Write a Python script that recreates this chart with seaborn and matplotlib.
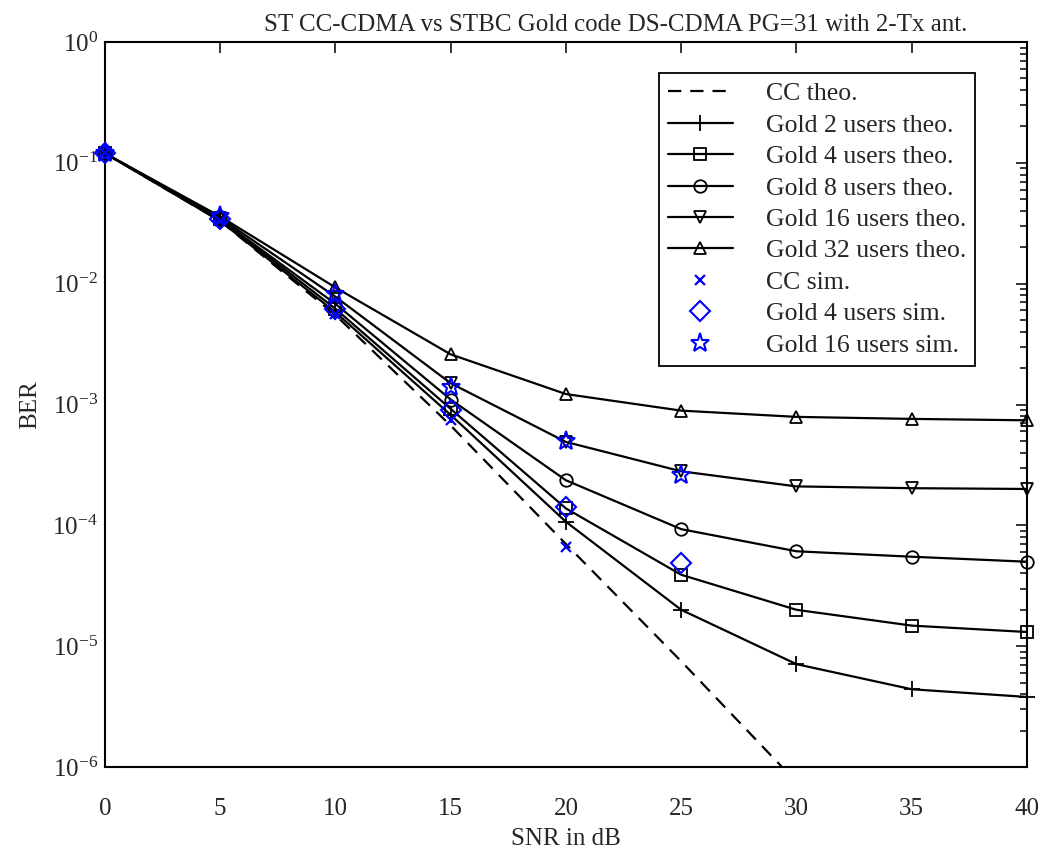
import numpy as np
import pandas as pd
import matplotlib
matplotlib.use("Agg")
import matplotlib.pyplot as plt
import matplotlib.ticker as mticker
import seaborn as sns

# SNR grid (dB)
snr = [0, 5, 10, 15, 20, 25, 30, 35, 40]
snr_sim = [0, 5, 10, 15, 20, 25]
snr_cc_sim = [0, 5, 10, 15, 20]

# theoretical curves
cc_theo = [0.12, 0.033, 0.0055, 6.7e-4, 7.0e-5, 7.5e-6, 7.5e-7, 7.5e-8, 7.5e-9]
gold2_theo = [0.12, 0.033, 0.0058, 8.2e-4, 1.07e-4, 2.0e-5, 7.1e-6, 4.4e-6, 3.8e-6]
gold4_theo = [0.12, 0.034, 0.0062, 9.2e-4, 1.38e-4, 3.9e-5, 2.0e-5, 1.48e-5, 1.31e-5]
gold8_theo = [0.12, 0.034, 0.0068, 1.1e-3, 2.36e-4, 9.3e-5, 6.1e-5, 5.5e-5, 5.0e-5]
gold16_theo = [0.12, 0.035, 0.0078, 1.5e-3, 4.9e-4, 2.8e-4, 2.1e-4, 2.03e-4, 2.0e-4]
gold32_theo = [0.12, 0.036, 0.0093, 2.6e-3, 1.22e-3, 8.9e-4, 7.9e-4, 7.6e-4, 7.4e-4]

# simulated points
cc_sim = [0.12, 0.033, 0.0056, 7.5e-4, 6.6e-5]
gold4_sim = [0.12, 0.034, 0.0062, 9.0e-4, 1.41e-4, 4.9e-5]
gold16_sim = [0.12, 0.036, 0.0082, 1.4e-3, 5.0e-4, 2.6e-4]

theo_labels = ["Gold 2 users theo.", "Gold 4 users theo.", "Gold 8 users theo.",
               "Gold 16 users theo.", "Gold 32 users theo."]
theo_values = [gold2_theo, gold4_theo, gold8_theo, gold16_theo, gold32_theo]
theo_markers = ["+", "s", "o", "v", "^"]

sns.set_style("white")
plt.rcParams["font.family"] = ["Liberation Serif", "DejaVu Serif"]
plt.rcParams["mathtext.fontset"] = "custom"
plt.rcParams["mathtext.rm"] = "Liberation Serif"
plt.rcParams["mathtext.it"] = "Liberation Serif:italic"

fig = plt.figure(figsize=(10.49, 8.57), dpi=100)
ax = fig.add_axes([0.100, 0.105, 0.879, 0.846])

sns.lineplot(x=snr, y=cc_theo, ax=ax, color="black", lw=1.6,
             dashes=(6, 4), label="CC theo.")
for lab, vals, mk in zip(theo_labels, theo_values, theo_markers):
    sns.lineplot(x=snr, y=vals, ax=ax, color="black", lw=1.6, marker=mk,
                 markersize=12 if mk == "+" else 9, markerfacecolor="none",
                 markeredgecolor="black", markeredgewidth=1.3, label=lab,
                 clip_on=False)

sns.lineplot(x=snr_cc_sim, y=cc_sim, ax=ax, color="blue", linestyle="",
             marker="x", markersize=7, markeredgecolor="blue", markeredgewidth=1.6,
             label="CC sim.", zorder=5, clip_on=False)
sns.lineplot(x=snr_sim, y=gold4_sim, ax=ax, color="blue", linestyle="",
             marker="D", markersize=10, markerfacecolor="none",
             markeredgecolor="blue", markeredgewidth=1.5, label="Gold 4 users sim.",
             zorder=5, clip_on=False)
sns.lineplot(x=snr_sim, y=gold16_sim, ax=ax, color="blue", linestyle="",
             marker="*", markersize=14, markerfacecolor="none",
             markeredgecolor="blue", markeredgewidth=1.5, label="Gold 16 users sim.",
             zorder=5, clip_on=False)

ax.set_yscale("log")
ax.set_xlim(0, 40)
ax.set_ylim(1e-6, 1)
ax.set_xticks(range(0, 41, 5))
ax.yaxis.set_major_locator(mticker.FixedLocator([1e-6, 1e-5, 1e-4, 1e-3, 1e-2, 1e-1, 1]))
ax.yaxis.set_minor_formatter(mticker.NullFormatter())
ax.tick_params(which="both", direction="in", top=True, right=True,
               labelsize=18, width=1.3)
ax.tick_params(axis="x", pad=22)
ax.tick_params(axis="y", pad=5)
ax.tick_params(which="major", length=8)
ax.tick_params(which="minor", length=5)
for sp in ax.spines.values():
    sp.set_linewidth(1.5)
    sp.set_color("black")

ax.set_xlabel("SNR in dB", fontsize=18, labelpad=6)
ax.set_ylabel("BER", fontsize=18, labelpad=8)
ax.set_title("ST CC-CDMA vs STBC Gold code DS-CDMA PG=31 with 2-Tx ant.",
             fontsize=18, pad=8, x=0.554)

leg = ax.legend(loc="upper right", bbox_to_anchor=(0.944, 0.957), borderaxespad=0,
                fontsize=18.5, frameon=True, fancybox=False, edgecolor="black",
                framealpha=1, handlelength=2.5, handletextpad=1.3,
                labelspacing=0.33, borderpad=0.35)
leg.get_frame().set_linewidth(1.3)

fig.savefig("out.png", dpi=100)
